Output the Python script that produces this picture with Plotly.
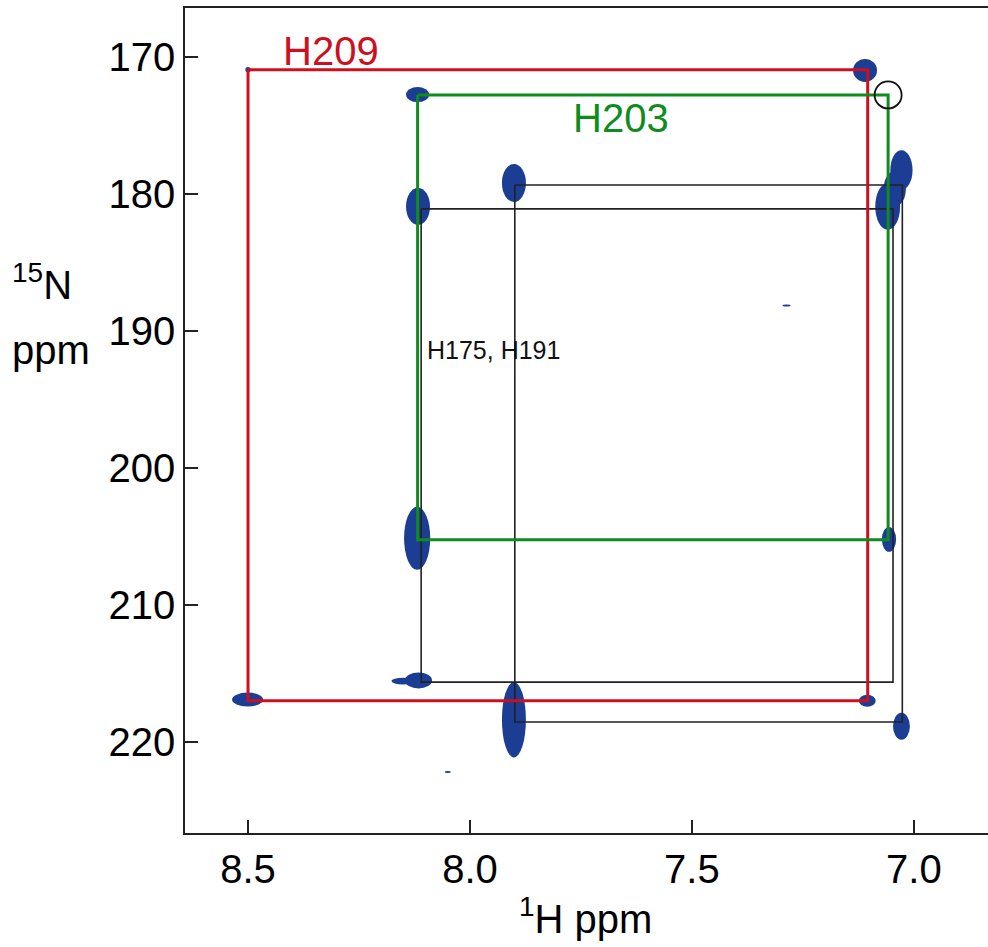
import plotly.graph_objects as go

# ---- data (ppm) ----
# peak centres (1H, 15N) and full widths (1H ppm, 15N ppm)
peak_h  = [8.500, 7.110, 8.501, 7.105, 8.118, 8.119, 7.056, 8.117, 8.116, 8.151, 7.901, 7.901, 7.028, 7.028, 7.059, 7.043, 7.287, 8.050]
peak_n  = [170.90, 170.96, 216.90, 216.99, 172.72, 205.12, 205.20, 180.89, 215.50, 215.55, 179.18, 218.37, 218.85, 178.23, 180.90, 179.60, 188.13, 222.19]
peak_wh = [0.012, 0.054, 0.070, 0.038, 0.052, 0.059, 0.032, 0.054, 0.061, 0.052, 0.054, 0.054, 0.038, 0.050, 0.056, 0.050, 0.018, 0.014]
peak_wn = [0.40, 1.68, 1.02, 0.88, 1.10, 4.60, 1.82, 2.70, 1.17, 0.50, 2.77, 5.50, 1.97, 2.90, 3.40, 2.60, 0.15, 0.15]

# assignment rectangles: [H1, H2], [N1, N2]
red_h,   red_n   = [8.500, 7.104], [170.90, 216.98]
green_h, green_n = [8.118, 7.058], [172.75, 205.23]
blkA_h,  blkA_n  = [8.110, 7.047], [181.07, 215.62]
blkB_h,  blkB_n  = [7.899, 7.026], [179.32, 218.54]

missing_h, missing_n = [7.058], [172.75]

labels      = ["H209", "H203", "H175, H191"]
label_h     = [8.313, 7.660, 7.948]
label_n     = [169.55, 174.40, 191.35]
label_color = ["#cc1020", "#0f8c1e", "#111111"]
label_size  = [40, 40, 25]

x_ticks = [8.5, 8.0, 7.5, 7.0]
x_ticktext = ["8.5", "8.0", "7.5", "7.0"]
y_ticks = [170, 180, 190, 200, 210, 220]

BLUE = "#1c3d94"
FONT = "Liberation Sans, Arial, sans-serif"

fig = go.Figure()

def rect(h, n):
    xs = [h[0], h[1], h[1], h[0], h[0]]
    ys = [n[0], n[0], n[1], n[1], n[0]]
    return xs, ys

for (h, n, col, w) in [(blkA_h, blkA_n, "#222222", 1.6),
                       (blkB_h, blkB_n, "#222222", 1.6),
                       (red_h, red_n, "#cc1020", 3),
                       (green_h, green_n, "#0f8c1e", 3)]:
    xs, ys = rect(h, n)
    fig.add_trace(go.Scatter(x=xs, y=ys, mode="lines",
                             line=dict(color=col, width=w),
                             hoverinfo="skip", showlegend=False))

fig.add_trace(go.Scatter(x=missing_h, y=missing_n, mode="markers",
                         marker=dict(symbol="circle-open", size=27,
                                     line=dict(color="#111111", width=1.8),
                                     color="#111111"),
                         hoverinfo="skip", showlegend=False))

shapes = []
for h, n, wh, wn in zip(peak_h, peak_n, peak_wh, peak_wn):
    shapes.append(dict(type="circle", xref="x", yref="y",
                       x0=h - wh / 2, x1=h + wh / 2,
                       y0=n - wn / 2, y1=n + wn / 2,
                       fillcolor=BLUE, line=dict(width=0), layer="below"))

annotations = []
for t, h, n, c, s in zip(labels, label_h, label_n, label_color, label_size):
    annotations.append(dict(text=t, x=h, y=n, xref="x", yref="y",
                            showarrow=False, font=dict(color=c, size=s, family=FONT)))

annotations.append(dict(text="<sup>1</sup>H ppm", x=0.499, y=-0.100,
                        xref="paper", yref="paper", showarrow=False,
                        xanchor="center", yanchor="middle",
                        font=dict(size=40, color="black", family=FONT)))
annotations.append(dict(text="<sup>15</sup>N", x=-0.218, y=0.668,
                        xref="paper", yref="paper", showarrow=False,
                        xanchor="left", yanchor="middle",
                        font=dict(size=40, color="black", family=FONT)))
annotations.append(dict(text="ppm", x=-0.218, y=0.585,
                        xref="paper", yref="paper", showarrow=False,
                        xanchor="left", yanchor="middle",
                        font=dict(size=40, color="black", family=FONT)))

fig.update_layout(
    width=988, height=947,
    margin=dict(l=185, r=0, t=8, b=114),
    paper_bgcolor="white", plot_bgcolor="white",
    shapes=shapes, annotations=annotations,
    showlegend=False,
    xaxis=dict(range=[8.642, 6.833], tickvals=x_ticks, ticktext=x_ticktext,
               ticks="inside", ticklen=13, tickwidth=1.5, tickcolor="#222",
               showline=True, linecolor="#222", linewidth=1.5, mirror=True,
               showgrid=False, zeroline=False,
               tickfont=dict(size=40, color="black", family=FONT)),
    yaxis=dict(range=[226.64, 166.4], tickvals=y_ticks,
               ticks="inside", ticklen=13, tickwidth=1.5, tickcolor="#222",
               showline=True, linecolor="#222", linewidth=1.5,
               showgrid=False, zeroline=False,
               tickfont=dict(size=40, color="black", family=FONT)),
)

fig.write_html("out.html")
